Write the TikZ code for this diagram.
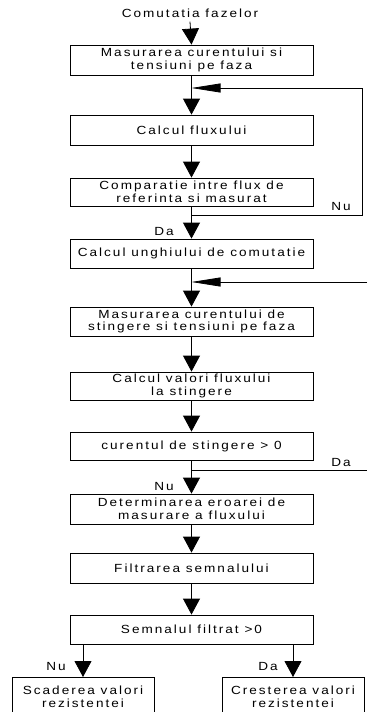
\documentclass[tikz,border=0pt]{standalone}
\usepackage{fontspec}
\setmainfont{Liberation Sans}[FakeStretch=1.15,LetterSpace=17]
\usetikzlibrary{arrows.meta}
\begin{document}
\begin{tikzpicture}[x=1pt,y=-1pt,
  font=\fontsize{11.8}{12.8}\selectfont,
  box/.style={draw, line width=0.8pt, minimum width=243pt, minimum height=29pt,
              inner sep=0pt, align=center},
  endbox/.style={draw, line width=0.8pt, minimum width=142pt, minimum height=38pt,
              inner sep=0pt, align=center, anchor=north},
  flow/.style={line width=0.8pt, -{Triangle[length=16pt,width=17pt]}},
  back/.style={line width=0.8pt, -{Triangle[length=29pt,width=9pt]}},
  wire/.style={line width=0.8pt},
  lbl/.style={inner sep=0pt}]
\useasboundingbox (0,0) rectangle (367,712);

\node[lbl] (title) at (190,13) {Comutatia fazelor};
\node[box, minimum height=30pt] (b1) at (191.5,60) {Masurarea curentului si\\tensiuni pe faza};
\node[box, minimum height=30pt] (b2) at (191.5,130) {Calcul fluxului};
\node[box, minimum height=28pt] (b3) at (191.5,192) {Comparatie intre flux de\\referinta si masurat};
\node[box] (b4) at (191.5,253.5) {Calcul unghiului de comutatie};
\node[box] (b5) at (191.5,321.5) {Masurarea curentului de\\stingere si tensiuni pe faza};
\node[box, minimum height=28pt] (b6) at (191.5,386) {Calcul valori fluxului\\la stingere};
\node[box, minimum height=28pt] (b7) at (191.5,446) {curentul de stingere > 0};
\node[box, minimum height=30pt] (b8) at (191.5,509) {Determinarea eroarei de\\masurare a fluxului};
\node[box, minimum height=30pt] (b9) at (191.5,568) {Filtrarea semnalului};
\node[box] (b10) at (191.5,629.5) {Semnalul filtrat >0};
\node[endbox] (b11) at (83,677) {Scaderea valori\\rezistentei};
\node[endbox] (b12) at (293,677) {Cresterea valori\\rezistentei};

% junctions of the side loops
\coordinate (j1) at (191.5,88);
\coordinate (r1) at (362,88);
\coordinate (n1) at (191.5,215);
\coordinate (n1r) at (362,215);
\coordinate (j2) at (191.5,282);
\coordinate (e2) at (367,282);
\coordinate (j3) at (191.5,470);
\coordinate (e3) at (367,470);

% main flow
\draw[flow] ([yshift=-4pt]title.south) -- (b1.north);
\draw[flow] (b1) -- (b2);
\draw[flow] (b2) -- (b3);
\draw[flow] (b3) -- (b4);
\draw[flow] (b4) -- (b5);
\draw[flow] (b5) -- (b6);
\draw[flow] (b6) -- (b7);
\draw[flow] (b7) -- (b8);
\draw[flow] (b8) -- (b9);
\draw[flow] (b9) -- (b10);
\draw[flow] (b10.south -| b11.north) -- (b11.north);
\draw[flow] (b10.south -| b12.north) -- (b12.north);

% loop back after the comparison
\draw[wire] (n1) -- (n1r) -- (r1);
\draw[back] (r1) -- (j1);
% incoming and outgoing connections at the right edge
\draw[back] (e2) -- (j2);
\draw[wire] (j3) -- (e3);

% branch labels
\node[lbl] (nu1) at (341,206) {Nu};
\node[lbl] (da1) at (164,231) {Da};
\node[lbl] (da2) at (341,462) {Da};
\node[lbl] (nu2) at (164,486) {Nu};
\node[lbl] (nu3) at (56,666) {Nu};
\node[lbl] (da3) at (268,666) {Da};
\end{tikzpicture}
\end{document}
